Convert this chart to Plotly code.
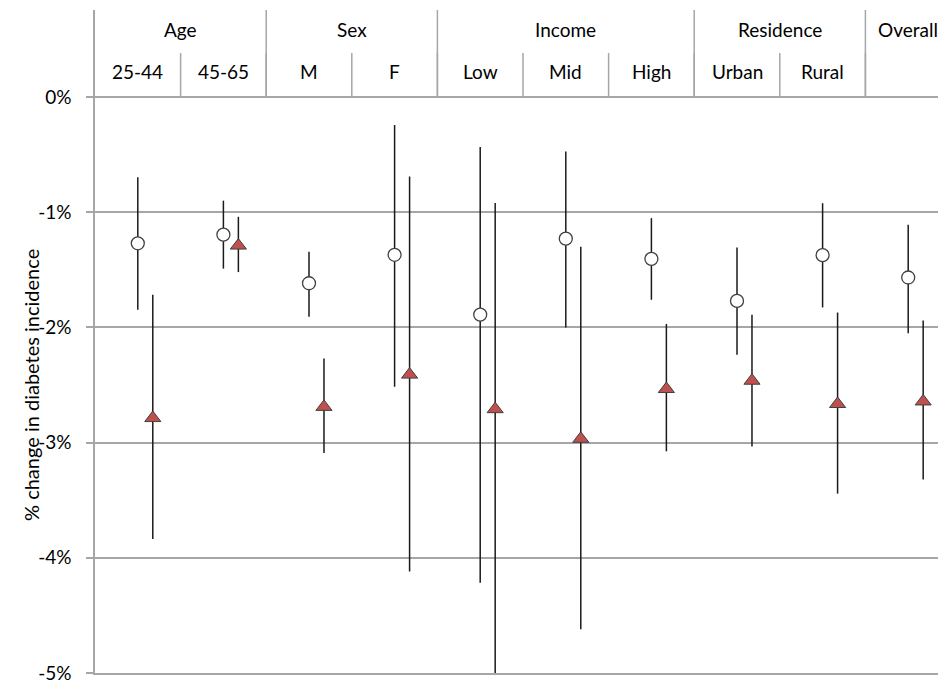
import plotly.graph_objects as go

# ---- data ----
categories = ["25-44", "45-65", "M", "F", "Low", "Mid", "High", "Urban", "Rural", "Overall"]
sub_labels = ["25-44", "45-65", "M", "F", "Low", "Mid", "High", "Urban", "Rural", ""]
groups = ["Age", "Sex", "Income", "Residence", "Overall"]
group_sizes = [2, 2, 3, 2, 1]

circle_est = [-1.27, -1.195, -1.617, -1.37, -1.889, -1.23, -1.405, -1.77, -1.373, -1.567]
circle_hi = [-0.697, -0.90, -1.343, -0.243, -0.434, -0.473, -1.052, -1.307, -0.922, -1.11]
circle_lo = [-1.847, -1.49, -1.907, -2.515, -4.217, -2.0, -1.76, -2.238, -1.827, -2.05]

tri_est = [-2.787, -1.29, -2.69, -2.41, -2.71, -2.967, -2.535, -2.463, -2.665, -2.643]
tri_hi = [-1.717, -1.04, -2.27, -0.69, -0.92, -1.30, -1.97, -1.89, -1.871, -1.94]
tri_lo = [-3.836, -1.52, -3.09, -4.12, -5.2, -4.62, -3.076, -3.033, -3.443, -3.32]

y_ticks = [0, -1, -2, -3, -4, -5]
y_tick_text = ["0%", "-1%", "-2%", "-3%", "-4%", "-5%"]

FONT = "Lato"
GRID = "#a6a6a6"
TRI_OFFSET = 0.175
HEADER_TOP = 0.755
SUB_TOP = 0.382

n = len(categories)
x_c = [i + 0.5 for i in range(n)]
x_t = [i + 0.5 + TRI_OFFSET for i in range(n)]

fig = go.Figure()

fig.add_trace(go.Scatter(
    x=x_c, y=circle_est, mode="markers",
    marker=dict(symbol="circle", size=13, color="white",
                line=dict(color="#404040", width=1.3)),
    error_y=dict(type="data", symmetric=False,
                 array=[h - e for h, e in zip(circle_hi, circle_est)],
                 arrayminus=[e - l for e, l in zip(circle_est, circle_lo)],
                 width=0, thickness=1.5, color="#1a1a1a"),
    showlegend=False, hoverinfo="skip"))

fig.add_trace(go.Scatter(
    x=x_t, y=tri_est, mode="markers",
    marker=dict(symbol="triangle-up", size=14, color="#c0504d",
                line=dict(color="#404040", width=1)),
    error_y=dict(type="data", symmetric=False,
                 array=[h - e for h, e in zip(tri_hi, tri_est)],
                 arrayminus=[e - l for e, l in zip(tri_est, tri_lo)],
                 width=0, thickness=1.5, color="#1a1a1a"),
    showlegend=False, hoverinfo="skip"))

shapes = []
annotations = []
HFONT = dict(family=FONT, size=19, color="black")

# subgroup separators and labels
for i, lab in enumerate(sub_labels):
    if lab:
        annotations.append(dict(x=i + 0.5, y=0.217, xref="x", yref="y", text=lab,
                                showarrow=False, font=HFONT))
    if i > 0:
        shapes.append(dict(type="line", xref="x", yref="y", x0=i, x1=i, y0=0, y1=SUB_TOP,
                           line=dict(color=GRID, width=1.5)))

# group separators and labels
start = 0
for g, s in zip(groups, group_sizes):
    annotations.append(dict(x=start + s / 2, y=0.59, xref="x", yref="y", text=g,
                            showarrow=False, font=HFONT))
    if start > 0:
        shapes.append(dict(type="line", xref="x", yref="y", x0=start, x1=start, y0=0, y1=HEADER_TOP,
                           line=dict(color=GRID, width=1.5)))
    start += s

annotations.append(dict(x=-64 / 843, y=(673 - 385) / 663, xref="paper", yref="paper",
                        xanchor="center", yanchor="middle",
                        text="% change in diabetes incidence", textangle=-90, showarrow=False,
                        font=dict(family=FONT, size=20, color="black")))

fig.update_layout(
    width=938, height=685,
    margin=dict(l=95, r=0, t=10, b=12),
    paper_bgcolor="white", plot_bgcolor="white",
    shapes=shapes, annotations=annotations,
    xaxis=dict(range=[0, 843 / 85.6], showgrid=False, zeroline=False,
               showticklabels=False, ticks="", showline=True, linecolor=GRID, linewidth=1.5),
    yaxis=dict(range=[-5, HEADER_TOP], tickvals=y_ticks, ticktext=y_tick_text,
               showgrid=True, gridcolor=GRID, gridwidth=1.5, zeroline=False,
               showline=True, linecolor=GRID, linewidth=1.5,
               ticks="outside", ticklen=7, tickcolor=GRID, tickwidth=1.5,
               ticklabelstandoff=11,
               tickfont=dict(family=FONT, size=19, color="black")),
)

fig.write_html("out.html", config={"displayModeBar": False},
               post_script="document.body.style.margin='0';")
